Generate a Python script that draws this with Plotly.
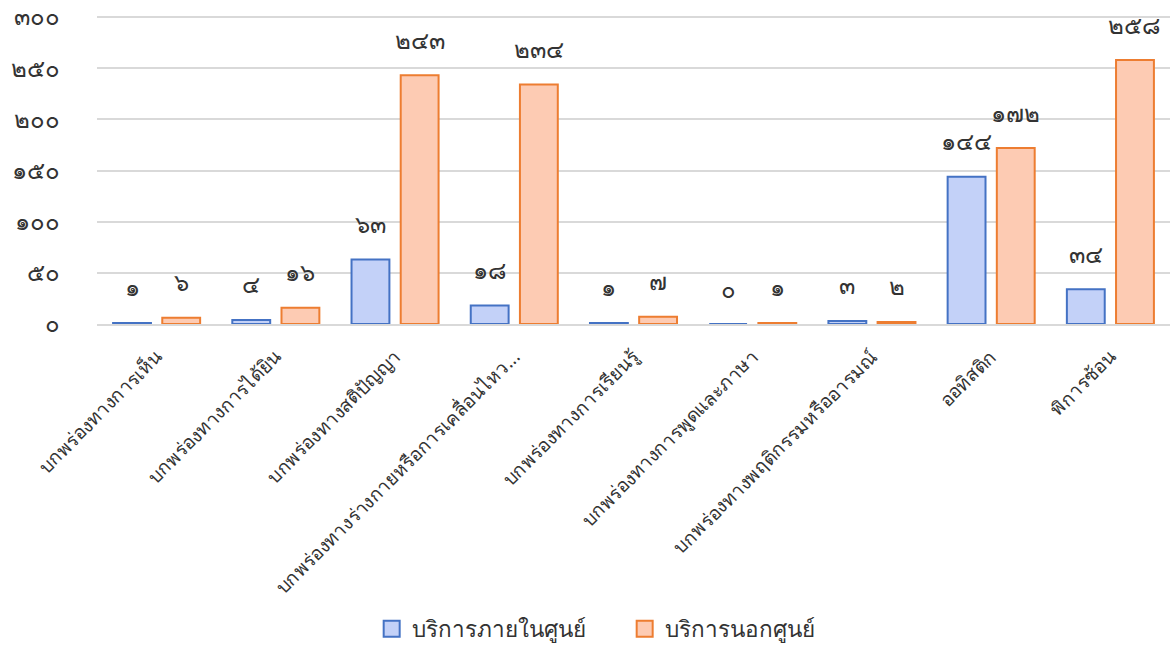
import plotly.graph_objects as go

categories = [
    "บกพร่องทางการเห็น",
    "บกพร่องทางการได้ยิน",
    "บกพร่องทางสติปัญญา",
    "บกพร่องทางร่างกายหรือการเคลื่อนไหว...",
    "บกพร่องทางการเรียนรู้",
    "บกพร่องทางการพูดและภาษา",
    "บกพร่องทางพฤติกรรมหรืออารมณ์",
    "ออทิสติก",
    "พิการซ้อน",
]
inside_center = [1, 4, 63, 18, 1, 0, 3, 144, 34]
outside_center = [6, 16, 243, 234, 7, 1, 2, 172, 258]
series_names = ["บริการภายในศูนย์", "บริการนอกศูนย์"]
y_ticks = [0, 50, 100, 150, 200, 250, 300]

THAI = str.maketrans("0123456789", "๐๑๒๓๔๕๖๗๘๙")
def th(n):
    return str(n).translate(THAI)

FONT = "Noto Sans, Tahoma, sans-serif"
TXT = "#333333"
FILLS = ["#c3d1f8", "#fdcbb3"]
LINES = ["#4472c4", "#ed7d31"]

fig = go.Figure()
for vals, name, fc, lc in zip((inside_center, outside_center), series_names, FILLS, LINES):
    fig.add_trace(go.Bar(
        x=categories, y=vals, name=name, showlegend=False,
        marker=dict(color=fc, line=dict(color=lc, width=2)),
    ))
# legend entries with larger square swatches
for name, fc, lc in zip(series_names, FILLS, LINES):
    fig.add_trace(go.Scatter(
        x=[None], y=[None], mode="markers", name=name,
        marker=dict(symbol="square", size=18, color=fc, line=dict(color=lc, width=2)),
    ))

bargap = 0.175
shift = 119.2 * (1 - bargap) / 4
annotations = []
for vals, sx in ((inside_center, -shift), (outside_center, shift)):
    for c, v in zip(categories, vals):
        annotations.append(dict(
            x=c, y=v, xref="x", yref="y", text=th(v), showarrow=False,
            xshift=sx, yshift=36, font=dict(size=24, color=TXT, family=FONT),
        ))

fig.update_layout(
    width=1172, height=648,
    margin=dict(l=97, r=2, t=15, b=324),
    paper_bgcolor="white", plot_bgcolor="white",
    barmode="group", bargap=bargap, bargroupgap=0.23,
    font=dict(family=FONT, color=TXT),
    showlegend=True,
    legend=dict(orientation="h", xref="container", x=0.533, xanchor="center",
                yref="container", y=0.0293, yanchor="middle",
                font=dict(size=22.5, color=TXT), entrywidth=208),
    annotations=annotations,
    xaxis=dict(
        tickangle=-45, tickfont=dict(size=19, color=TXT),
        showline=True, linecolor="#d9d9d9", linewidth=2, ticks="",
        automargin=False, ticklabelstandoff=12,
    ),
    yaxis=dict(
        range=[0, 302], tickvals=y_ticks, ticktext=[th(t) for t in y_ticks],
        tickfont=dict(size=24, color=TXT),
        showgrid=True, gridcolor="#d9d9d9", gridwidth=1.5,
        zeroline=False, ticklabelstandoff=36, automargin=False,
        ticklabeloverflow="allow",
    ),
)

fig.write_html("out.html", config={"displayModeBar": False},
               post_script="document.body.style.margin='0';")
